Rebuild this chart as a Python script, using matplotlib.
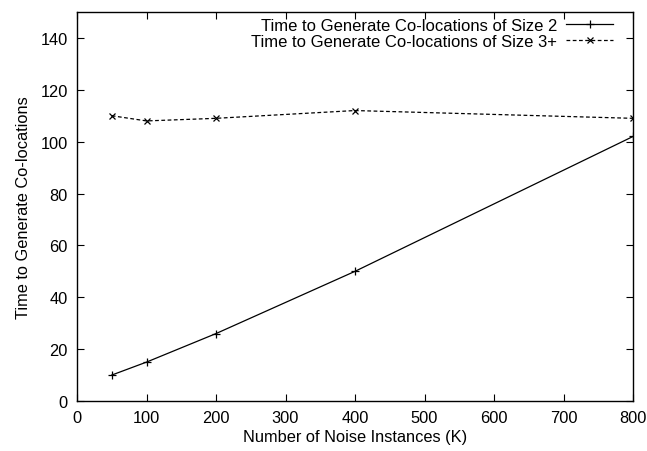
import matplotlib
matplotlib.use("Agg")
import matplotlib.pyplot as plt

plt.rcParams['font.family'] = ['Liberation Sans', 'DejaVu Sans']

noise = [50, 100, 200, 400, 800]
size2 = [10, 15, 26, 50, 102]
size3 = [110, 108, 109, 112, 109]

fig = plt.figure(figsize=(6.47, 4.52), dpi=100)
ax = fig.add_axes([77/647, 1 - 402/452, (633-77)/647, (402-13)/452])

ax.plot(noise, size2, color='black', lw=0.9, marker='+', ms=6, mew=0.9,
        label='Time to Generate Co-locations of Size 2')
ax.plot(noise, size3, color='black', lw=0.9, ls=(0, (3, 2)), marker='x', ms=5, mew=0.9,
        label='Time to Generate Co-locations of Size 3+')

ax.set_xlim(0, 800)
ax.set_ylim(0, 150)
ax.set_xticks(range(0, 801, 100))
ax.set_yticks(range(0, 141, 20))
ax.tick_params(direction='in', top=True, right=True, length=5, width=0.8, labelsize=11.8, pad=6.5)
for s in ax.spines.values():
    s.set_linewidth(1)

ax.set_xlabel('Number of Noise Instances (K)', fontsize=11.8, labelpad=3)
ax.set_ylabel('Time to Generate Co-locations', fontsize=11.8, labelpad=7)

leg = ax.legend(loc='upper right', bbox_to_anchor=(0.964, 0.985), frameon=False,
                markerfirst=False, fontsize=12, handlelength=2.8, handletextpad=0.55,
                borderaxespad=0, borderpad=0, labelspacing=0.05)
for t in leg.get_texts():
    t.set_ha('right')

fig.savefig('out.png', dpi=100)
